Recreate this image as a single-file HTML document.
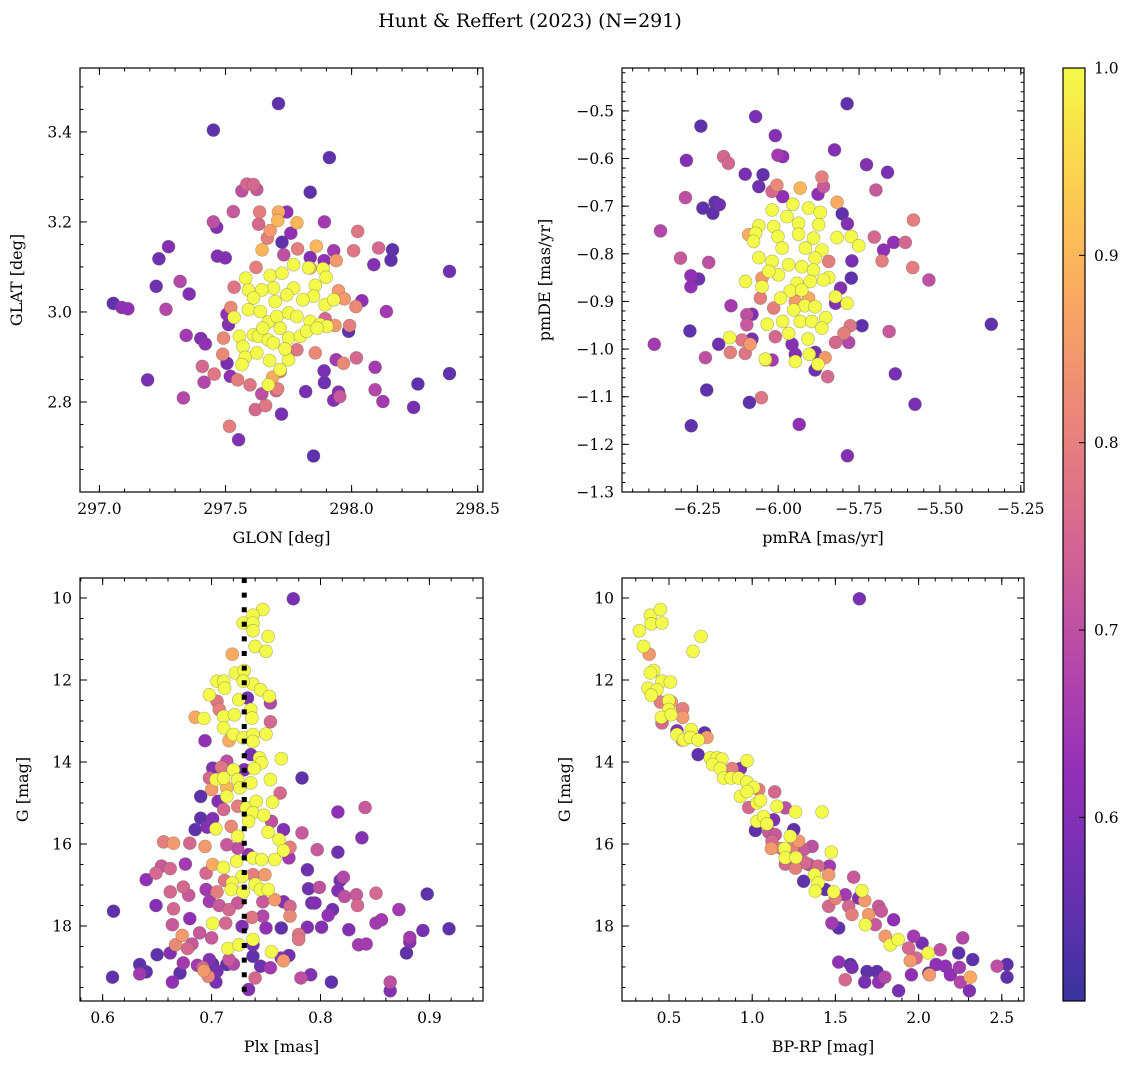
<!DOCTYPE html>
<html><head><meta charset="utf-8"><style>
html,body{margin:0;padding:0;background:#fff;}
svg{display:block;font-family:"DejaVu Serif","Liberation Serif",serif;}
</style></head><body>
<svg id="fig" width="1136" height="1068" viewBox="0 0 1136 1068" xmlns="http://www.w3.org/2000/svg">
<text x="530" y="27" font-size="19" text-anchor="middle">Hunt &amp; Reffert (2023) (N=291)</text>
<defs><linearGradient id="cbgrad" x1="0" y1="1" x2="0" y2="0"></linearGradient></defs>
</svg>
<script>
// ---------- Panel 1: GLON / GLAT ----------
const p1Glon=[297.710,297.452,297.912,297.836,297.055,297.089,297.113,297.225,297.236,297.274,297.320,297.356,297.264,297.191,297.333,297.344,297.402,297.420,297.408,297.415,297.455,297.516,297.552,297.849,297.722,297.618,297.659,297.597,297.644,297.701,297.818,297.892,297.891,297.929,297.948,297.953,298.093,298.124,298.093,298.246,298.263,298.388,298.388,298.088,298.107,298.162,298.156,298.138,298.024,298.008,297.929,297.892,298.041,298.017,297.988,297.992,297.939,298.019,297.968,297.939,297.565,297.585,297.611,297.624,297.531,297.452,297.465,297.468,297.499,297.635,297.631,297.743,297.710,297.707,297.783,297.759,297.724,297.677,297.666,297.645,297.786,297.860,297.836,297.891,297.621,297.534,297.521,297.506,297.512,297.492,297.489,297.506,297.519,297.548,297.717,297.687,297.707,297.783,297.856,297.895,297.934,297.948,297.971,297.731,297.836,
297.580,297.591,297.677,297.724,297.770,297.829,297.887,297.899,297.856,297.849,297.807,297.770,297.743,297.690,297.697,297.644,297.611,297.591,297.638,297.670,297.704,297.750,297.783,297.836,297.875,297.902,297.895,297.929,297.534,297.555,297.569,297.578,297.565,297.611,297.631,297.670,297.717,297.750,297.797,297.822,297.863,297.750,297.717,297.670,297.675,297.624,297.736,297.690,297.648];
const p1Glat=[3.463,3.404,3.343,3.266,3.019,3.010,3.007,3.057,3.118,3.145,3.068,3.040,3.006,2.849,2.809,2.948,2.941,2.929,2.879,2.844,2.862,2.746,2.716,2.680,2.773,2.783,2.792,2.838,2.818,2.825,2.823,2.843,2.869,2.804,2.822,2.812,2.827,2.801,2.877,2.788,2.840,2.863,3.090,3.105,3.142,3.138,3.115,3.001,3.179,3.136,3.136,3.200,3.025,3.012,2.957,2.970,3.114,2.898,2.886,2.894,3.269,3.284,3.283,3.272,3.223,3.200,3.188,3.124,3.120,3.222,3.195,3.222,3.222,3.203,3.198,3.175,3.155,3.181,3.164,3.138,3.140,3.146,3.121,3.114,3.099,3.055,3.010,2.995,2.972,2.942,2.906,2.886,2.857,2.849,2.868,2.855,2.829,2.916,2.909,2.985,2.970,3.047,3.029,3.127,3.098,
3.075,3.049,3.081,3.086,3.105,3.098,3.096,3.077,3.059,3.035,3.027,3.053,3.038,3.053,3.023,3.049,3.031,3.005,3.001,2.978,2.990,2.998,2.990,2.979,2.972,2.968,3.016,3.027,2.988,2.946,2.923,2.899,2.883,2.949,2.946,2.938,2.964,2.942,2.946,2.957,2.964,2.894,2.872,2.838,2.892,2.909,2.918,2.931,2.964];
const p1Prob=[0.55,0.55,0.55,0.55,0.55,0.62,0.62,0.57,0.57,0.6,0.68,0.6,0.68,0.58,0.68,0.65,0.6,0.62,0.75,0.68,0.78,0.8,0.6,0.55,0.58,0.75,0.78,0.78,0.7,0.75,0.58,0.57,0.58,0.6,0.6,0.72,0.68,0.65,0.65,0.58,0.55,0.55,0.57,0.6,0.75,0.55,0.55,0.65,0.78,0.78,0.65,0.65,0.62,0.82,0.55,0.8,0.85,0.75,0.82,0.65,0.7,0.75,0.75,0.72,0.72,0.7,0.6,0.6,0.6,0.8,0.75,0.62,0.88,0.9,0.9,0.62,0.55,0.85,0.8,0.9,0.8,0.9,0.6,0.62,0.8,0.78,0.82,0.62,0.6,0.82,0.82,0.58,0.62,0.8,0.8,0.88,0.8,0.78,0.82,0.75,0.85,0.85,0.85,0.7,0.9,
1,1,1,1,1,1,1,1,1,1,1,1,1,1,1,1,1,1,1,1,1,1,1,1,1,1,1,1,1,1,1,1,1,1,1,1,1,1,1,1,1,1,1,1,1,1,1,1,1];

// ---------- Panel 2: pmRA / pmDE ----------
const p2Pmra=[-5.787,-6.070,-6.239,-6.009,-6.284,-6.169,-6.154,-6.001,-5.986,-5.826,-5.727,-5.662,-6.102,-6.047,-6.060,-6.004,-6.019,-5.986,-5.932,-5.865,-5.860,-5.877,-5.818,-5.698,-6.287,-6.233,-6.195,-6.182,-6.202,-6.364,-5.802,-5.786,-5.582,-5.703,-5.674,-5.643,-5.607,-5.679,-5.584,-5.534,-5.772,-5.774,-5.807,-5.823,-6.302,-6.215,-6.270,-6.246,-6.270,-6.146,-6.097,-6.081,-6.097,-6.273,-6.383,-6.184,-6.225,-6.148,-6.102,-6.112,-6.081,-6.087,-6.038,-6.019,-6.009,-5.957,-5.947,-5.886,-5.886,-5.847,-5.855,-5.823,-5.782,-5.797,-5.777,-5.741,-5.657,-5.341,-5.638,-5.577,-6.221,-6.089,-6.052,-6.269,-5.935,-5.786,
-5.955,-6.019,-5.973,-5.906,-5.870,-6.060,-6.014,-5.937,-5.875,-6.070,-6.001,-5.937,-5.891,-5.818,-5.774,-5.751,-6.091,-6.076,-5.988,-5.916,-5.865,-6.060,-6.019,-5.968,-5.927,-5.886,-5.999,-5.891,-5.844,-5.860,-6.101,-6.050,-6.029,-5.942,-5.901,-5.963,-5.927,-5.993,-5.918,-5.886,-5.823,-5.787,-5.952,-5.986,-5.932,-5.896,-5.853,-5.865,-5.968,-5.908,-6.034,-6.150,-6.040,-5.947,-5.904,-5.877,-6.055,-6.014,-5.947,-5.906,-6.050,-5.844];
const p2Pmde=[-0.485,-0.512,-0.532,-0.552,-0.604,-0.596,-0.610,-0.593,-0.596,-0.582,-0.613,-0.629,-0.633,-0.634,-0.659,-0.656,-0.669,-0.680,-0.662,-0.639,-0.659,-0.675,-0.692,-0.666,-0.682,-0.704,-0.692,-0.697,-0.715,-0.752,-0.716,-0.737,-0.729,-0.765,-0.792,-0.776,-0.776,-0.815,-0.829,-0.855,-0.815,-0.851,-0.872,-0.904,-0.809,-0.818,-0.846,-0.853,-0.869,-0.909,-0.928,-0.927,-0.949,-0.962,-0.990,-0.990,-1.018,-1.007,-1.009,-0.981,-0.979,-0.990,-1.023,-1.023,-0.974,-0.990,-1.011,-1.007,-1.044,-1.058,-1.018,-0.986,-0.986,-0.967,-0.951,-0.951,-0.963,-0.948,-1.052,-1.116,-1.086,-1.112,-1.102,-1.161,-1.158,-1.224,
-0.696,-0.708,-0.722,-0.704,-0.713,-0.741,-0.743,-0.736,-0.739,-0.757,-0.764,-0.759,-0.767,-0.766,-0.764,-0.783,-0.760,-0.774,-0.788,-0.788,-0.792,-0.808,-0.816,-0.823,-0.827,-0.809,-0.844,-0.834,-0.850,-0.855,-0.858,-0.869,-0.837,-0.862,-0.858,-0.878,-0.876,-0.893,-0.909,-0.911,-0.890,-0.904,-0.918,-0.942,-0.942,-0.942,-0.934,-0.956,-0.967,-0.979,-0.948,-0.976,-1.021,-1.026,-1.011,-1.032,-0.893,-0.914,-0.900,-0.893,-0.851,-0.816];
const p2Prob=[0.55,0.58,0.55,0.6,0.6,0.75,0.75,0.65,0.62,0.6,0.6,0.58,0.58,0.55,0.57,0.82,0.75,0.62,0.9,0.8,0.72,0.62,0.88,0.72,0.7,0.55,0.55,0.57,0.55,0.68,0.55,0.6,0.8,0.75,0.62,0.62,0.75,0.8,0.8,0.7,0.58,0.55,0.6,0.6,0.72,0.7,0.62,0.57,0.62,0.65,0.7,0.6,0.72,0.55,0.65,0.57,0.7,0.8,0.78,0.78,0.58,0.85,0.88,0.65,0.75,0.6,0.6,0.58,0.57,0.75,0.85,0.75,0.68,0.8,0.78,0.55,0.72,0.55,0.58,0.58,0.55,0.55,0.78,0.55,0.62,0.6,
1,1,1,1,1,1,1,1,1,1,1,1,1,1,1,1,0.88,1,1,1,1,1,1,1,1,1,1,1,1,1,1,1,1,1,1,1,1,1,1,1,1,1,1,1,1,1,1,1,1,1,1,1,1,1,1,1,0.8,0.8,0.85,0.88,0.85,0.8];

// ---------- Panel 3: Plx / G ----------
const p3Plx=[0.775,0.747,0.738,0.729,0.738,0.738,0.752,0.740,0.750,0.719,0.722,0.730,0.705,0.711,0.712,0.738,0.745,0.729,0.698,0.705,0.725,0.733,0.753,0.754,0.707,0.685,0.693,0.711,0.721,0.736,0.737,0.754,0.711,0.694,0.716,0.720,0.729,0.738,0.750,0.738,0.736,0.744,0.746,0.764,0.714,0.701,0.709,0.720,0.730,0.739,0.698,0.704,0.711,0.724,0.736,0.754,0.700,0.714,0.726,0.783,0.763,0.690,0.714,0.706,0.711,0.724,0.732,0.741,0.756,0.738,0.748,0.734,0.755,0.816,0.841,0.690,0.701,0.685,0.696,0.704,0.718,0.724,0.752,0.766,0.783,0.838,0.656,0.665,0.680,0.694,0.714,0.724,0.762,0.772,0.766,0.797,0.816,0.734,0.738,0.746,0.758,0.723,0.771,0.676,0.701,0.711,0.654,0.662,0.649,0.695,0.640,0.788,0.728,0.738,0.749,0.821,0.818,0.712,0.719,0.740,0.674,0.662,0.679,0.695,0.705,0.718,0.729,0.745,0.752,0.789,0.799,0.816,0.822,0.833,0.851,0.898,0.649,0.665,0.698,0.707,0.716,0.724,0.747,0.758,0.766,0.772,0.772,0.792,0.795,0.811,0.807,0.834,0.872,0.610,0.680,0.664,0.713,0.701,0.737,0.747,0.728,0.750,0.764,0.788,0.801,0.826,0.851,0.856,0.894,0.918,0.673,0.689,0.700,0.667,0.678,0.682,0.715,0.725,0.738,0.738,0.755,0.780,0.780,0.835,0.842,0.882,0.882,0.879,0.650,0.662,0.674,0.634,0.698,0.701,0.716,0.714,0.720,0.738,0.745,0.764,0.771,0.766,0.634,0.640,0.671,0.687,0.693,0.697,0.692,0.705,0.704,0.609,0.664,0.740,0.754,0.782,0.791,0.810,0.864,0.864,0.734];
const p3G=[10.02,10.28,10.42,10.61,10.61,10.80,10.94,11.18,11.30,11.37,11.83,11.77,12.03,12.03,12.20,12.10,12.24,12.03,12.36,12.52,12.48,12.44,12.40,12.56,12.72,12.91,12.94,12.89,12.85,12.72,12.93,13.02,13.17,13.48,13.48,13.33,13.41,13.33,13.32,13.50,13.82,13.90,14.02,13.92,13.98,14.15,14.13,14.19,14.19,14.16,14.39,14.43,14.39,14.43,14.51,14.43,14.67,14.63,14.63,14.39,14.76,14.84,14.84,14.96,15.16,15.08,15.12,14.96,14.98,15.24,15.30,15.45,15.45,15.22,15.11,15.37,15.38,15.65,15.59,15.63,15.57,15.81,15.71,15.65,15.73,15.85,15.95,15.98,15.98,16.06,16.02,16.10,15.89,16.08,16.16,16.14,16.20,16.26,16.34,16.38,16.38,16.42,16.34,16.49,16.50,16.57,16.54,16.60,16.71,16.71,16.87,16.63,16.79,16.75,16.75,16.81,16.89,16.89,16.95,16.98,17.05,17.17,17.25,17.11,17.17,17.11,17.17,17.11,17.11,17.09,17.06,17.14,17.28,17.24,17.20,17.22,17.50,17.58,17.40,17.50,17.60,17.44,17.41,17.36,17.41,17.52,17.76,17.44,17.44,17.60,17.74,17.50,17.60,17.64,17.82,17.97,17.93,17.94,17.79,17.76,18.01,18.05,18.05,18.03,18.03,18.09,17.93,17.85,18.11,18.07,18.23,18.17,18.29,18.46,18.55,18.44,18.55,18.46,18.33,18.46,18.63,18.21,18.33,18.46,18.44,18.28,18.39,18.66,18.70,18.66,18.90,18.94,18.82,18.93,18.82,18.94,18.93,18.74,18.98,18.78,18.72,18.85,19.17,19.12,19.15,18.96,19.09,19.23,19.01,19.10,19.37,19.25,19.37,19.27,19.02,19.27,19.19,19.37,19.37,19.58,19.55];
const p3Prob=[0.58,1,1,1,1,1,1,1,1,0.88,1,1,1,1,1,1,1,1,1,0.78,1,0.58,1,0.68,0.8,0.88,1,1,1,1,1,0.75,1,0.62,0.88,1,1,1,1,1,0.58,1,1,1,0.7,0.6,0.78,1,0.6,1,0.75,1,1,1,1,1,0.85,0.9,1,0.55,0.75,0.55,1,0.6,0.75,0.8,1,1,1,1,1,1,0.7,0.62,0.72,0.55,0.6,0.55,0.6,1,0.82,1,1,0.6,0.72,0.6,0.8,0.85,0.75,0.85,0.72,0.7,1,0.8,1,0.72,0.57,0.62,1,1,1,1,0.65,0.65,0.88,1,0.72,0.75,0.75,0.75,0.62,0.57,1,0.8,0.85,0.68,0.58,0.78,1,1,0.75,0.75,0.72,0.65,0.8,1,1,1,1,0.57,0.7,0.6,0.7,0.72,0.75,0.55,0.6,0.75,0.65,0.72,0.75,0.72,0.72,0.85,0.6,0.75,0.82,0.57,0.6,0.57,0.62,0.75,0.65,0.55,0.62,0.72,0.75,1,0.78,0.68,0.6,0.62,0.55,0.6,0.6,0.6,0.65,0.65,0.58,0.55,0.85,0.72,0.72,0.82,0.75,0.72,1,1,1,0.58,1,0.78,0.78,0.65,0.65,0.65,0.6,0.55,0.55,0.6,0.65,0.55,0.6,0.55,0.72,0.55,0.68,0.55,0.57,0.62,0.57,0.85,0.65,0.55,0.55,0.65,0.85,0.82,0.75,0.58,0.58,0.55,0.62,0.75,0.65,0.7,0.6,0.55,0.7,0.6,0.6];
const p3PlxRef=[0.730];

// ---------- Panel 4: BP-RP / G ----------
const p4Col=[1.644,0.322,0.388,0.448,0.393,0.458,0.692,0.644,0.347,0.381,0.408,0.388,0.458,0.508,0.374,0.427,0.393,0.448,0.498,0.514,0.582,0.582,0.498,0.454,0.514,0.458,0.548,0.548,0.578,0.588,0.634,0.628,0.675,0.714,0.728,0.675,0.748,0.789,0.818,0.762,0.808,0.879,0.929,0.969,0.828,0.874,0.918,0.969,1.009,1.039,0.929,0.969,1.135,0.979,1.029,1.049,1.149,1.199,1.260,1.420,1.029,1.069,1.089,1.129,1.019,1.099,1.250,1.139,1.119,1.229,1.279,1.360,1.115,1.175,1.195,1.239,1.309,1.476,1.199,1.263,1.319,1.199,1.260,1.396,1.464,1.309,1.375,1.396,1.460,1.610,1.379,1.440,1.489,1.559,1.500,1.660,1.640,1.676,1.580,1.600,1.460,1.479,1.520,1.700,1.680,1.760,1.776,1.850,1.740,1.800,1.830,1.877,1.940,1.970,2.021,2.057,1.950,1.985,2.130,2.105,2.161,2.241,2.265,2.325,2.245,2.061,1.957,2.191,2.251,2.311,2.305,2.472,2.531,2.531,2.065,1.520,1.590,1.600,1.559,1.690,1.750,1.676,1.760,1.797,1.880,1.340];
const p4G=[10.02,10.80,10.42,10.28,10.63,10.61,10.94,11.30,11.18,11.37,11.77,11.83,12.03,12.05,12.20,12.24,12.37,12.54,12.50,12.54,12.70,12.91,12.72,12.91,12.85,13.05,13.24,13.33,13.46,13.46,13.21,13.40,13.46,13.29,13.40,13.82,13.90,13.90,13.93,14.06,14.16,14.16,14.16,13.97,14.39,14.39,14.39,14.49,14.62,14.67,14.84,14.72,14.73,15.11,15.00,14.94,15.08,15.12,15.22,15.22,15.45,15.33,15.51,15.41,15.67,15.71,15.65,15.77,15.93,15.81,15.93,16.06,16.11,16.11,16.11,16.10,16.14,16.20,16.34,16.33,16.46,16.49,16.59,16.54,16.54,16.91,16.75,16.95,16.75,16.81,17.15,17.11,17.17,17.24,17.33,17.14,17.32,17.38,17.52,17.72,17.52,17.93,18.05,17.72,17.97,17.52,17.64,17.85,17.97,18.25,18.46,18.33,18.54,18.25,18.42,18.66,18.85,18.78,18.58,18.94,18.98,18.66,18.29,18.82,19.01,19.15,19.19,19.19,19.37,19.25,19.58,18.98,18.94,19.25,19.19,18.88,18.94,19.01,19.31,19.11,19.11,19.37,19.37,19.25,19.58,16.50];
const p4Prob=[0.58,1,1,1,1,1,1,1,1,0.85,1,1,1,1,1,1,1,0.8,1,0.85,0.8,0.85,1,1,1,0.75,0.6,1,0.85,1,1,1,1,0.55,0.85,0.55,1,1,1,1,1,0.8,0.6,1,1,1,1,1,1,0.8,1,1,0.75,0.75,1,1,1,0.7,1,1,1,1,1,0.6,0.55,0.72,0.55,0.72,0.75,1,0.85,0.7,0.85,0.8,1,0.8,0.72,1,1,1,0.75,0.75,0.8,0.75,0.65,0.55,1,1,0.85,0.72,1,0.55,1,0.65,0.8,1,0.6,0.85,0.75,0.8,0.75,0.65,0.55,0.85,1,0.72,0.72,0.62,0.72,0.85,1,1,0.75,0.65,0.58,1,0.85,0.75,0.7,0.62,0.62,0.55,0.68,0.55,0.65,0.55,0.62,0.62,0.68,0.88,0.6,0.7,0.55,0.55,0.85,0.62,0.55,0.58,0.75,0.55,0.55,0.58,0.62,0.68,0.58,0.7];

// colorbar
const cbTicks=[0.6,0.7,0.8,0.9,1.0];
const cMin=0.502, cMax=1.0;

const NS='http://www.w3.org/2000/svg';
const svg=document.getElementById('fig');
function mk(tag,attrs,parent){const e=document.createElementNS(NS,tag);for(const k in attrs)e.setAttribute(k,attrs[k]);(parent||svg).appendChild(e);return e;}

const stops=[[13,8,135],[76,2,161],[126,3,168],[169,35,149],[204,71,120],[229,107,93],[248,148,65],[253,195,40],[240,249,33]];
function plasma(t){t=Math.max(0,Math.min(1,t));const s=t*8,i=Math.min(7,Math.floor(s)),f=s-i;const a=stops[i],b=stops[i+1];return a.map((v,k)=>v+(b[k]-v)*f);}
function colorFor(v,alpha){const c=plasma((v-cMin)/(cMax-cMin));const m=c.map(x=>Math.round(x*alpha+255*(1-alpha)));return `rgb(${m[0]},${m[1]},${m[2]})`;}

function lin(d0,d1,r0,r1){return v=>r0+(v-d0)*(r1-r0)/(d1-d0);}

function panel(opt){
  const g=mk('g',{});
  
  
  const {L,R,T,B}=opt;
  const sx=lin(opt.xd[0],opt.xd[1],L,R), sy=lin(opt.yd[0],opt.yd[1],opt.yInv?T:B,opt.yInv?B:T);
  const clipId='clip'+opt.name;
  const cp=mk('clipPath',{id:clipId},g);mk('rect',{x:L,y:T,width:R-L,height:B-T},cp);
  const pts=mk('g',{'clip-path':`url(#${clipId})`},g);
  
  
  const idx=opt.xs.map((_,i)=>i).sort((a,b)=>opt.cs[a]-opt.cs[b]);
  idx.forEach(i=>{
    const c=mk('circle',{cx:sx(opt.xs[i]).toFixed(1),cy:sy(opt.ys[i]).toFixed(1),r:6.5,fill:colorFor(opt.cs[i],0.82),stroke:'rgba(90,90,60,0.45)','stroke-width':0.6},pts);
    
    
  });
  if(opt.vline!==undefined){
    const l=mk('line',{x1:sx(opt.vline),x2:sx(opt.vline),y1:T,y2:B,stroke:'#000','stroke-width':5,'stroke-dasharray':'5 9.6'},g);
    
    
  }
  const tk=mk('g',{stroke:'#000','stroke-width':1},g);
  function ticksX(step,len){const lo=Math.min(...opt.xd),hi=Math.max(...opt.xd);for(let k=Math.ceil(lo/step-1e-9);k*step<=hi+1e-9;k++){const x=sx(k*step);mk('line',{x1:x,x2:x,y1:B,y2:B-len},tk);mk('line',{x1:x,x2:x,y1:T,y2:T+len},tk);}}
  function ticksY(step,len){const lo=Math.min(...opt.yd),hi=Math.max(...opt.yd);for(let k=Math.ceil(lo/step-1e-9);k*step<=hi+1e-9;k++){const y=sy(k*step);mk('line',{x1:L,x2:L+len,y1:y,y2:y},tk);mk('line',{x1:R,x2:R-len,y1:y,y2:y},tk);}}
  ticksX(opt.xminor,3.5);ticksX(opt.xmajor,7);ticksY(opt.yminor,3.5);ticksY(opt.ymajor,7);
  opt.xlabels.forEach(v=>{const t=mk('text',{x:sx(v),y:B+22,'font-size':15.5,'text-anchor':'middle'},g);t.textContent=opt.xfmt(v);});
  opt.ylabels.forEach(v=>{const t=mk('text',{x:L-8,y:sy(v)+5.5,'font-size':15.5,'text-anchor':'end'},g);t.textContent=opt.yfmt(v);});
  const xt=mk('text',{x:(L+R)/2,y:B+51,'font-size':16,'text-anchor':'middle'},g);xt.textContent=opt.xtitle;
  
  const yt=mk('text',{x:0,y:0,'font-size':16,'text-anchor':'middle',transform:`translate(${opt.ytx},${(T+B)/2}) rotate(-90)`},g);yt.textContent=opt.ytitle;
  
  const fr=mk('rect',{x:L,y:T,width:R-L,height:B-T,fill:'none',stroke:'#000','stroke-width':1.2},g);
  
}
const f1=v=>v.toFixed(1), f2=v=>v.toFixed(2).replace('-','\u2212'), f0=v=>String(v);
panel({name:'glon-glat-panel',L:80,R:483,T:68,B:492,xd:[296.923,298.521],yd:[2.6,3.542],xs:p1Glon,ys:p1Glat,cs:p1Prob,
 xmajor:0.5,xminor:0.1,ymajor:0.2,yminor:0.05,xlabels:[297.0,297.5,298.0,298.5],ylabels:[2.8,3.0,3.2,3.4],xfmt:f1,yfmt:f1,xtitle:'GLON [deg]',ytitle:'GLAT [deg]',ytx:22});
panel({name:'proper-motion-panel',L:622,R:1024,T:68,B:492,xd:[-6.483,-5.240],yd:[-1.3,-0.41],xs:p2Pmra,ys:p2Pmde,cs:p2Prob,
 xmajor:0.25,xminor:0.05,ymajor:0.1,yminor:0.02,xlabels:[-6.25,-6.0,-5.75,-5.5,-5.25],ylabels:[-1.3,-1.2,-1.1,-1.0,-0.9,-0.8,-0.7,-0.6,-0.5],xfmt:f2,yfmt:v=>v.toFixed(1).replace('-','\u2212'),xtitle:'pmRA [mas/yr]',ytitle:'pmDE [mas/yr]',ytx:550});
panel({name:'parallax-magnitude-panel',L:80,R:483,T:578,B:1001,xd:[0.5792,0.9492],yd:[9.512,19.83],yInv:true,xs:p3Plx,ys:p3G,cs:p3Prob,vline:p3PlxRef[0],
 xmajor:0.1,xminor:0.02,ymajor:2,yminor:0.5,xlabels:[0.6,0.7,0.8,0.9],ylabels:[10,12,14,16,18],xfmt:f1,yfmt:f0,xtitle:'Plx [mas]',ytitle:'G [mag]',ytx:28});
panel({name:'color-magnitude-panel',L:622,R:1024,T:578,B:1001,xd:[0.2175,2.6334],yd:[9.512,19.83],yInv:true,xs:p4Col,ys:p4G,cs:p4Prob,
 xmajor:0.5,xminor:0.1,ymajor:2,yminor:0.5,xlabels:[0.5,1.0,1.5,2.0,2.5],ylabels:[10,12,14,16,18],xfmt:f1,yfmt:f0,xtitle:'BP-RP [mag]',ytitle:'G [mag]',ytx:570});

// colorbar
const cb=mk('g',{});


const grad=document.getElementById('cbgrad');
for(let i=0;i<=20;i++){const v=cMin+(cMax-cMin)*i/20;mk('stop',{offset:(i/20).toFixed(3),'stop-color':colorFor(v,0.82)},grad);}
const cbT=68,cbB=1001,cbL=1063,cbR=1085;
const cy=lin(cMin,cMax,cbB,cbT);
mk('rect',{x:cbL,y:cbT,width:cbR-cbL,height:cbB-cbT,fill:'url(#cbgrad)',stroke:'#000','stroke-width':1.2},cb);
cbTicks.forEach(v=>{const y=cy(v);mk('line',{x1:cbR,x2:cbR-6,y1:y,y2:y,stroke:'#000'},cb);
 const t=mk('text',{x:1094,y:y+5.5,'font-size':15.5},cb);t.textContent=v.toFixed(1);
 });
</script>
</body></html>
